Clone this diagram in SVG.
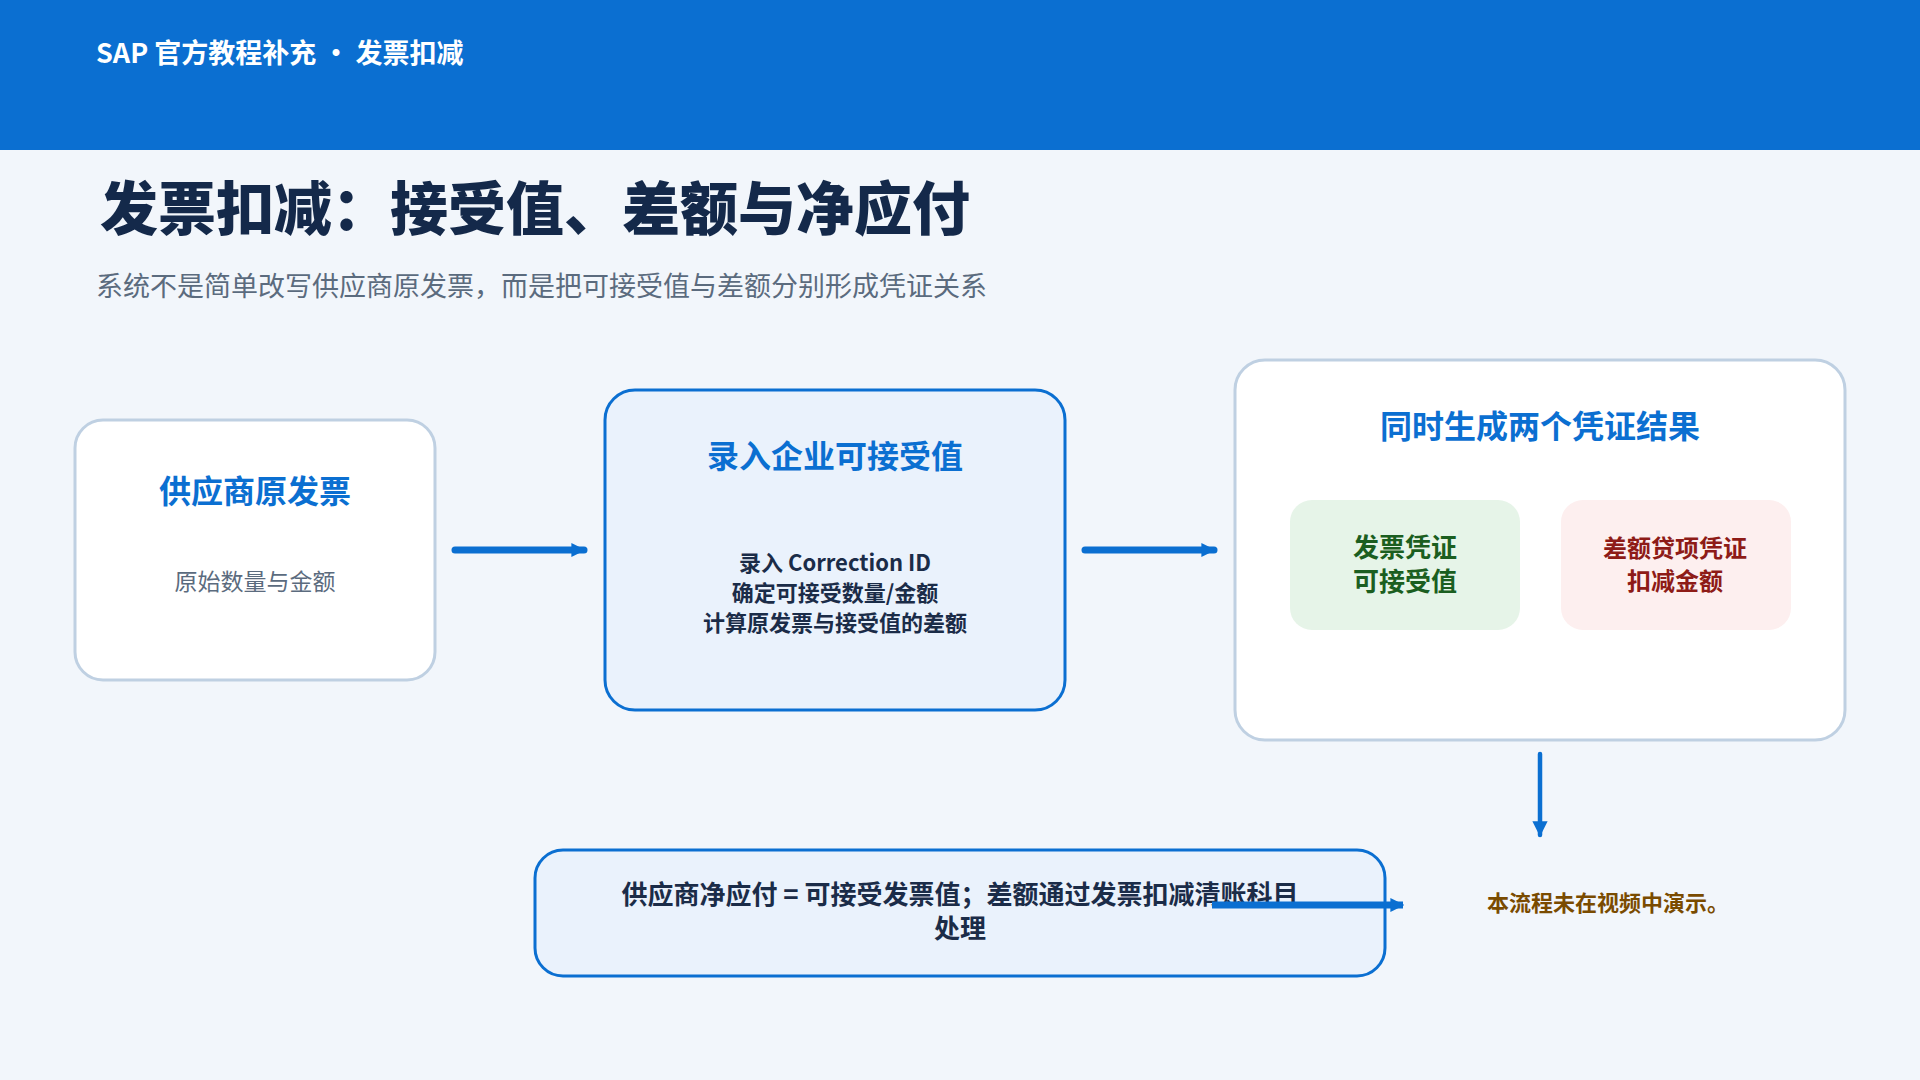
<svg xmlns="http://www.w3.org/2000/svg" width="1920" height="1080" viewBox="0 0 1920 1080">
<defs>
<style>
text{font-family:"Noto Sans CJK SC","Noto Sans",sans-serif;}
.h{fill:#FFFFFF;font-size:27px;font-weight:700;}
.title{fill:#14294A;font-size:58px;font-weight:900;}
.sub{fill:#5B6B7E;font-size:27px;font-weight:400;}
.nt{fill:#0B6FD1;font-weight:700;text-anchor:middle;}
.body{fill:#1B2C48;font-size:22px;font-weight:700;text-anchor:middle;}
.muted{fill:#5B6B7E;font-size:23px;text-anchor:middle;}
.card{fill:#FFFFFF;stroke:#BFD0E2;stroke-width:3;}
.hl{fill:#EAF2FC;stroke:#0B6FD1;stroke-width:3;}
.conn{stroke:#0B6FD1;fill:none;stroke-linecap:round;}
</style>
<marker id="ah" viewBox="0 0 10 10" refX="9" refY="5" markerWidth="2" markerHeight="2.4" orient="auto" markerUnits="strokeWidth">
<path d="M0,0 L10,5 L0,10 z" fill="#0B6FD1"/>
</marker>
<marker id="ahs" viewBox="0 0 10 10" refX="9" refY="5" markerWidth="3.4" markerHeight="3.4" orient="auto" markerUnits="strokeWidth">
<path d="M0,0 L10,5 L0,10 z" fill="#0B6FD1"/>
</marker>
</defs>
<rect width="1920" height="1080" fill="#F2F6FB"/>
<rect width="1920" height="150" fill="#0B6FD1"/>
<text class="h" x="96" y="63">SAP 官方教程补充 · 发票扣减</text>
<text class="title" x="100" y="230">发票扣减：接受值、差额与净应付</text>
<text class="sub" x="96" y="296">系统不是简单改写供应商原发票，而是把可接受值与差额分别形成凭证关系</text>

<g id="node-original">
<rect class="card" x="75" y="420" width="360" height="260" rx="28"/>
<text class="nt" x="255" y="503" font-size="32">供应商原发票</text>
<text class="muted" x="255" y="590">原始数量与金额</text>
</g>

<g id="node-entry">
<rect class="hl" x="605" y="390" width="460" height="320" rx="30"/>
<text class="nt" x="835" y="468" font-size="32">录入企业可接受值</text>
<text class="body" x="835" y="571">录入 Correction ID</text>
<text class="body" x="835" y="601">确定可接受数量/金额</text>
<text class="body" x="835" y="631">计算原发票与接受值的差额</text>
</g>

<g id="node-results">
<rect class="card" x="1235" y="360" width="610" height="380" rx="30"/>
<text class="nt" x="1540" y="438" font-size="32">同时生成两个凭证结果</text>
<g id="node-invoice-doc">
<rect x="1290" y="500" width="230" height="130" rx="22" fill="#E6F4E8"/>
<text x="1405" y="557" font-size="26" font-weight="700" fill="#1B5E20" text-anchor="middle">发票凭证</text>
<text x="1405" y="591" font-size="26" font-weight="700" fill="#1B5E20" text-anchor="middle">可接受值</text>
</g>
<g id="node-credit-doc">
<rect x="1561" y="500" width="230" height="130" rx="22" fill="#FDEFEF"/>
<text x="1675" y="557" font-size="24" font-weight="700" fill="#8E1B17" text-anchor="middle">差额贷项凭证</text>
<text x="1675" y="590" font-size="24" font-weight="700" fill="#8E1B17" text-anchor="middle">扣减金额</text>
</g>
</g>

<g id="node-net">
<rect class="hl" x="535" y="850" width="850" height="126" rx="28"/>
<text class="body" x="960" y="904" style="font-size:26px">供应商净应付 = 可接受发票值；差额通过发票扣减清账科目</text>
<text class="body" x="960" y="938" style="font-size:26px">处理</text>
</g>

<g id="node-note">
<text x="1608" y="911" font-size="22" font-weight="700" fill="#7A4B00" text-anchor="middle">本流程未在视频中演示。</text>
</g>

<g id="connectors">
<line class="conn" x1="455" y1="550" x2="584" y2="550" stroke-width="7" marker-end="url(#ah)"/>
<line class="conn" x1="1085" y1="550" x2="1214" y2="550" stroke-width="7" marker-end="url(#ah)"/>
<line class="conn" x1="1540" y1="754" x2="1540" y2="835" stroke-width="4.5" marker-end="url(#ahs)"/>
<line x1="1212" y1="905" x2="1403" y2="905" stroke="#0B6FD1" stroke-width="7" marker-end="url(#ah)"/>
</g>
</svg>
